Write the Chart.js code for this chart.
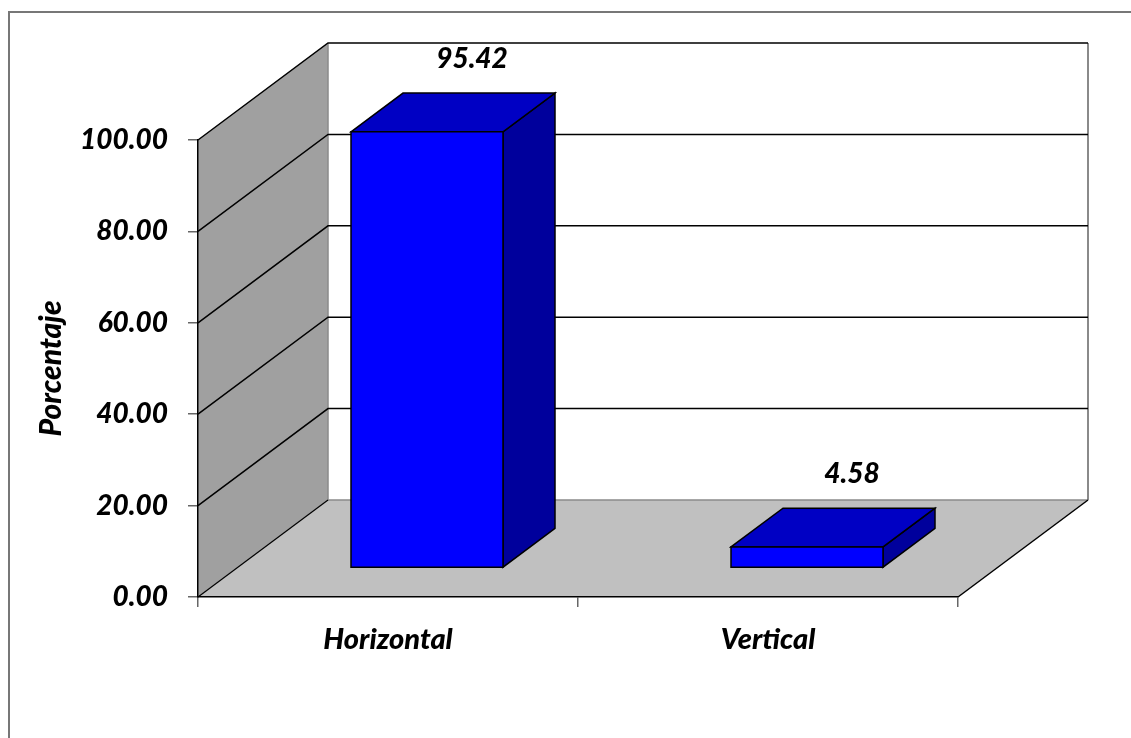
<!DOCTYPE html>
<html lang="es">
<head>
  <meta charset="UTF-8" />
  <title>Porcentaje por orientación</title>
  <script src="https://cdn.jsdelivr.net/npm/chart.js"></script>
  <style>
    html, body { margin: 0; padding: 0; background: #fff; }
    #contenedor { width: 1131px; height: 738px; }
  </style>
</head>
<body>
  <div id="contenedor">
    <canvas id="grafico" width="1131" height="738"></canvas>
  </div>

  <script>
    // datos del gráfico
    const categorias = ['Horizontal', 'Vertical'];
    const porcentajes = [95.42, 4.58];
    const marcasEje = [0, 20, 40, 60, 80, 100];

    const FUENTE = 'Lato, "Open Sans", sans-serif';
    const PESO = '900';

    // desplazamiento de la pared del fondo respecto del plano frontal
    const fondo = { dx: 130, dy: -97 };
    // las barras ocupan de 0.3 a 0.7 de la profundidad
    const barraDelante = 0.3, barraDetras = 0.7;

    const colores = {
      frente: '#0000FF',
      techo: '#0000C4',
      lado: '#00009C',
      paredIzq: '#A0A0A0',
      suelo: '#C0C0C0'
    };

    function linea(ctx, pts, color, ancho) {
      ctx.beginPath();
      ctx.moveTo(pts[0][0], pts[0][1]);
      for (let i = 1; i < pts.length; i++) ctx.lineTo(pts[i][0], pts[i][1]);
      ctx.strokeStyle = color;
      ctx.lineWidth = ancho;
      ctx.stroke();
    }

    function poligono(ctx, pts, relleno, borde) {
      ctx.beginPath();
      ctx.moveTo(pts[0][0], pts[0][1]);
      for (let i = 1; i < pts.length; i++) ctx.lineTo(pts[i][0], pts[i][1]);
      ctx.closePath();
      ctx.fillStyle = relleno;
      ctx.fill();
      if (borde) {
        ctx.strokeStyle = borde;
        ctx.lineWidth = 1.5;
        ctx.lineJoin = 'miter';
        ctx.stroke();
      }
    }

    // paredes, suelo y líneas de división en 3D
    const escenario3d = {
      id: 'escenario3d',
      beforeDraw(chart) {
        const ctx = chart.ctx;
        const { left, right, top, bottom } = chart.chartArea;
        const y = chart.scales.y;
        const dx = fondo.dx, dy = fondo.dy;
        ctx.save();
        ctx.fillStyle = '#fff';
        ctx.fillRect(0, 0, chart.width, chart.height);

        // marco exterior
        linea(ctx, [[9, chart.height + 2], [9, 12], [chart.width + 2, 12]], '#777', 2);

        // pared izquierda
        poligono(ctx, [[left, top], [left + dx, top + dy], [left + dx, bottom + dy], [left, bottom]], colores.paredIzq);
        // suelo
        poligono(ctx, [[left, bottom], [left + dx, bottom + dy], [right + dx, bottom + dy], [right, bottom]], colores.suelo);

        // bordes grises del fondo
        linea(ctx, [[left + dx, top + dy], [left + dx, bottom + dy], [right + dx, bottom + dy]], '#8a8a8a', 1.5);
        linea(ctx, [[right + dx, top + dy], [right + dx, bottom + dy]], '#8a8a8a', 2);

        // líneas de división
        marcasEje.forEach(v => {
          const py = y.getPixelForValue(v);
          if (v === 0) {
            linea(ctx, [[left, py], [left + dx, py + dy]], '#000', 1.2);
          } else {
            linea(ctx, [[left, py], [left + dx, py + dy], [right + dx, py + dy]], '#000', 1.5);
          }
        });

        // borde inferior derecho del suelo
        linea(ctx, [[right, bottom], [right + dx, bottom + dy]], '#000', 1.5);
        ctx.restore();
      },
      afterDatasetsDraw(chart) {
        const ctx = chart.ctx;
        const meta = chart.getDatasetMeta(0);
        const ax = fondo.dx * barraDelante, ay = fondo.dy * barraDelante;
        const px = fondo.dx * (barraDetras - barraDelante), py = fondo.dy * (barraDetras - barraDelante);
        ctx.save();
        meta.data.forEach((barra, i) => {
          const x0 = barra.x - barra.width / 2 + ax;
          const x1 = barra.x + barra.width / 2 + ax;
          const yt = barra.y + ay;
          const yb = barra.base + ay;
          // cara lateral
          poligono(ctx, [[x1, yt], [x1 + px, yt + py], [x1 + px, yb + py], [x1, yb]], colores.lado, '#000');
          // cara superior
          poligono(ctx, [[x0, yt], [x0 + px, yt + py], [x1 + px, yt + py], [x1, yt]], colores.techo, '#000');
          // cara frontal
          poligono(ctx, [[x0, yt], [x1, yt], [x1, yb], [x0, yb]], colores.frente, '#000');

          // etiqueta del valor sobre la barra
          ctx.font = 'italic ' + PESO + ' 28px ' + FUENTE;
          ctx.fillStyle = '#000';
          ctx.textAlign = 'center';
          ctx.textBaseline = 'middle';
          const cx = barra.x + fondo.dx * barraDetras - 7;
          const cy = barra.y + fondo.dy * barraDetras - 34;
          ctx.fillText(porcentajes[i].toFixed(2), cx, cy);
        });
        ctx.restore();
      }
    };

    new Chart(document.getElementById('grafico'), {
      type: 'bar',
      data: {
        labels: categorias,
        datasets: [{
          label: 'Porcentaje',
          data: porcentajes,
          backgroundColor: 'rgba(0,0,0,0)',
          borderWidth: 0,
          barPercentage: 1,
          categoryPercentage: 0.4
        }]
      },
      options: {
        responsive: false,
        animation: false,
        layout: { padding: { left: 0, top: 140, right: 173, bottom: 0 } },
        plugins: {
          legend: { display: false },
          tooltip: { enabled: false }
        },
        scales: {
          x: {
            afterFit(scale) { scale.height = 141; },
            grid: { drawOnChartArea: false, drawTicks: true, tickLength: 10, color: '#666', lineWidth: 1.5 },
            border: { display: true, color: '#000', width: 1.5 },
            ticks: {
              padding: 15,
              color: '#000',
              font: { family: FUENTE, size: 29, style: 'italic', weight: PESO }
            }
          },
          y: {
            min: 0,
            max: 100,
            afterFit(scale) { scale.width = 198; },
            afterBuildTicks(scale) { scale.ticks = marcasEje.map(v => ({ value: v })); },
            grid: { drawOnChartArea: false, drawTicks: true, tickLength: 10, color: '#666', lineWidth: 1.5 },
            border: { display: true, color: '#000', width: 1.5 },
            ticks: {
              padding: 20,
              color: '#000',
              font: { family: FUENTE, size: 28, style: 'italic', weight: PESO },
              callback: v => Number(v).toFixed(2)
            },
            title: {
              display: true,
              text: 'Porcentaje',
              color: '#000',
              align: 'center',
              padding: { top: 33, bottom: 0 },
              font: { family: FUENTE, size: 30, style: 'italic', weight: PESO }
            }
          }
        }
      },
      plugins: [escenario3d]
    });
  </script>
</body>
</html>
